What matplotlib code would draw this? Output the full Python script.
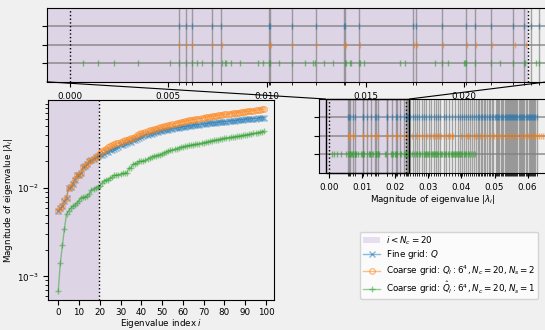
import numpy as np
import matplotlib
matplotlib.use("Agg")
import matplotlib.pyplot as plt
from matplotlib.patches import Patch, ConnectionPatch

# sorted eigenvalue magnitudes |lambda_i|, i = 0..99
fine_q = [
    0.00553, 0.00590, 0.00619, 0.00721, 0.00767, 0.01010, 0.01018, 0.01125, 0.01248, 0.01390,
    0.01398, 0.01469, 0.01740, 0.01755, 0.01886, 0.02009, 0.02055, 0.02134, 0.02250, 0.02306,
    0.02338, 0.02379, 0.0245, 0.0253, 0.0258, 0.0266, 0.0271, 0.0279, 0.0286, 0.0293,
    0.0303, 0.0309, 0.0316, 0.0323, 0.0329, 0.0336, 0.0346, 0.0354, 0.0362, 0.0372,
    0.0381, 0.0388, 0.0395, 0.0401, 0.0407, 0.0413, 0.0420, 0.0426, 0.0432, 0.0438,
    0.0444, 0.0449, 0.0453, 0.0458, 0.0463, 0.0467, 0.0472, 0.0477, 0.0482, 0.0487,
    0.0492, 0.0496, 0.0500, 0.0504, 0.0507, 0.0511, 0.0515, 0.0519, 0.0523, 0.0527,
    0.0531, 0.0534, 0.0538, 0.0541, 0.0544, 0.0547, 0.0551, 0.0554, 0.0557, 0.0560,
    0.0563, 0.0566, 0.0569, 0.0573, 0.0576, 0.0580, 0.0583, 0.0587, 0.0590, 0.0594,
    0.0597, 0.0600, 0.0603, 0.0606, 0.0609, 0.0612, 0.0616, 0.0620, 0.0624, 0.0628,
]
coarse_ns2 = [
    0.00555, 0.00592, 0.00621, 0.00724, 0.00770, 0.01012, 0.01020, 0.01128, 0.01251, 0.01393,
    0.01401, 0.01473, 0.01744, 0.01759, 0.01891, 0.02013, 0.02060, 0.02139, 0.02256, 0.02312,
    0.0251, 0.0262, 0.0270, 0.0279, 0.0288, 0.0296, 0.0305, 0.0313, 0.0320, 0.0326,
    0.0332, 0.0339, 0.0346, 0.0352, 0.0358, 0.0364, 0.0370, 0.0375, 0.0400, 0.0408,
    0.0416, 0.0424, 0.0432, 0.0440, 0.0448, 0.0456, 0.0463, 0.0471, 0.0478, 0.0485,
    0.0492, 0.0499, 0.0506, 0.0513, 0.0520, 0.0527, 0.0534, 0.0541, 0.0548, 0.0555,
    0.0562, 0.0569, 0.0576, 0.0582, 0.0588, 0.0594, 0.0600, 0.0606, 0.0612, 0.0618,
    0.0624, 0.0630, 0.0636, 0.0642, 0.0648, 0.0654, 0.0660, 0.0665, 0.0670, 0.0675,
    0.0680, 0.0685, 0.0690, 0.0695, 0.0700, 0.0705, 0.0710, 0.0715, 0.0720, 0.0725,
    0.0730, 0.0735, 0.0740, 0.0745, 0.0750, 0.0756, 0.0762, 0.0768, 0.0775, 0.0782,
]
coarse_ns1 = [
    0.00068, 0.00141, 0.00224, 0.00348, 0.00510, 0.00553, 0.00590, 0.00619, 0.00645, 0.00672,
    0.00721, 0.00770, 0.00786, 0.00791, 0.00820, 0.00862, 0.00956, 0.00978, 0.01010, 0.01014,
    0.01063, 0.01126, 0.01194, 0.01236, 0.01245, 0.01288, 0.01333, 0.01398, 0.01401, 0.01420,
    0.01427, 0.01469, 0.01472, 0.01491, 0.01673, 0.01701, 0.01853, 0.01886, 0.01917, 0.02002,
    0.02005, 0.02009, 0.02055, 0.02134, 0.02182, 0.02250, 0.02303, 0.02308, 0.02364, 0.02379,
    0.0245, 0.0250, 0.0256, 0.0261, 0.0266, 0.0270, 0.0275, 0.0280, 0.0285, 0.0290,
    0.0294, 0.0297, 0.0300, 0.0303, 0.0307, 0.0310, 0.0313, 0.0316, 0.0319, 0.0323,
    0.0326, 0.0330, 0.0334, 0.0338, 0.0342, 0.0346, 0.0350, 0.0354, 0.0358, 0.0363,
    0.0367, 0.0370, 0.0373, 0.0376, 0.0379, 0.0382, 0.0385, 0.0388, 0.0391, 0.0395,
    0.0399, 0.0403, 0.0407, 0.0411, 0.0415, 0.0419, 0.0423, 0.0428, 0.0434, 0.0442,
]
n_c = 20

labels = [
    r'Fine grid: $Q$',
    r'Coarse grid: $Q_l: 6^4, N_c = 20, N_s = 2$',
    r'Coarse grid: $\hat{Q}_l: 6^4, N_c = 20, N_s = 1$',
]
colors = ['tab:blue', 'tab:orange', 'tab:green']
markers = ['x', 'o', '+']
shade = 'tab:purple'

plt.rcParams.update({
    'font.size': 6.3,
    'figure.facecolor': '#f0f0f0',
    'axes.facecolor': '#f0f0f0',
})

fig = plt.figure(figsize=(5.45, 3.3), dpi=100)
ax = fig.add_axes([0.088, 0.09, 0.415, 0.607])
ax_strip = fig.add_axes([0.5853, 0.476, 0.4187, 0.224])
ax_top = fig.add_axes([0.0862, 0.752, 0.9178, 0.224])

all_series = [fine_q, coarse_ns2, coarse_ns1]

# main plot: eigenvalue vs index
idx = np.arange(len(fine_q))
handles = []
for vals, c, m, lab in zip(all_series, colors, markers, labels):
    mfc = 'none' if m == 'o' else c
    h, = ax.plot(idx, vals, color=c, marker=m, ms=4, mfc=mfc, lw=1,
                 alpha=0.5, label=lab)
    handles.append(h)
ax.set_yscale('log')
xl = ax.get_xlim()
ax.axvspan(xl[0], n_c - 0.5, color=shade, alpha=0.2, lw=0)
ax.axvline(n_c - 0.5, color='k', ls=':', lw=1)
ax.set_xticks(np.arange(0, 101, 10))
ax.set_xlim(xl)
ax.tick_params(axis='x', pad=2)
ax.set_xlabel(r'Eigenvalue index $i$', labelpad=0)
ax.set_ylabel(r'Magnitude of eigenvalue $|\lambda_i|$', labelpad=1)

# boundary between the first N_c eigenvalues and the rest
cut = (fine_q[n_c - 1] + fine_q[n_c]) / 2


def draw_strip(a, xlim):
    rows = [2, 1, 0]
    for vals, c, r in zip(all_series, colors, rows):
        a.plot(vals, np.full(len(vals), r), ls='none', marker='|', ms=4.5,
               mew=1, color=c, alpha=0.6)
    a.set_yticks(rows)
    a.set_yticklabels([])
    a.set_xticks(fine_q, minor=True)
    a.grid(which='minor', axis='x', color='gray', alpha=0.7, lw=1)
    a.grid(which='major', axis='y', color='gray', alpha=0.8, lw=1.2)
    a.axvspan(xlim[0], cut, color=shade, alpha=0.2, lw=0)
    a.axvline(0, color='k', ls=':', lw=1)
    a.axvline(cut, color='k', ls=':', lw=1)
    a.set_xlim(xlim)
    a.set_ylim(-1, 3)


full_lim = (-0.05 * max(fine_q), 1.05 * max(fine_q))
zoom_lim = (-0.05 * fine_q[n_c - 1], 1.05 * fine_q[n_c - 1])
draw_strip(ax_strip, full_lim)
draw_strip(ax_top, zoom_lim)
ax_strip.set_xlabel(r'Magnitude of eigenvalue $|\lambda_i|$', labelpad=1)

# zoom box and connectors
ax_strip.indicate_inset([zoom_lim[0], -1, zoom_lim[1] - zoom_lim[0], 4],
                        edgecolor='k', alpha=1, lw=1)
for corner, xb in [(0, zoom_lim[0]), (1, zoom_lim[1])]:
    con = ConnectionPatch(xyA=(corner, 0), coordsA=ax_top.transAxes,
                          xyB=(xb, 3), coordsB=ax_strip.transData,
                          color='k', lw=0.8)
    fig.add_artist(con)

leg_handles = [Patch(facecolor=shade, alpha=0.2)] + handles
leg_labels = [r'$i < N_c = 20$'] + labels
fig.legend(leg_handles, leg_labels, loc='lower right',
           bbox_to_anchor=(0.995, 0.082), facecolor='white', framealpha=0.8,
           labelspacing=0.2, borderpad=0.3, handletextpad=0.6)

fig.savefig('out.png', dpi=100)
